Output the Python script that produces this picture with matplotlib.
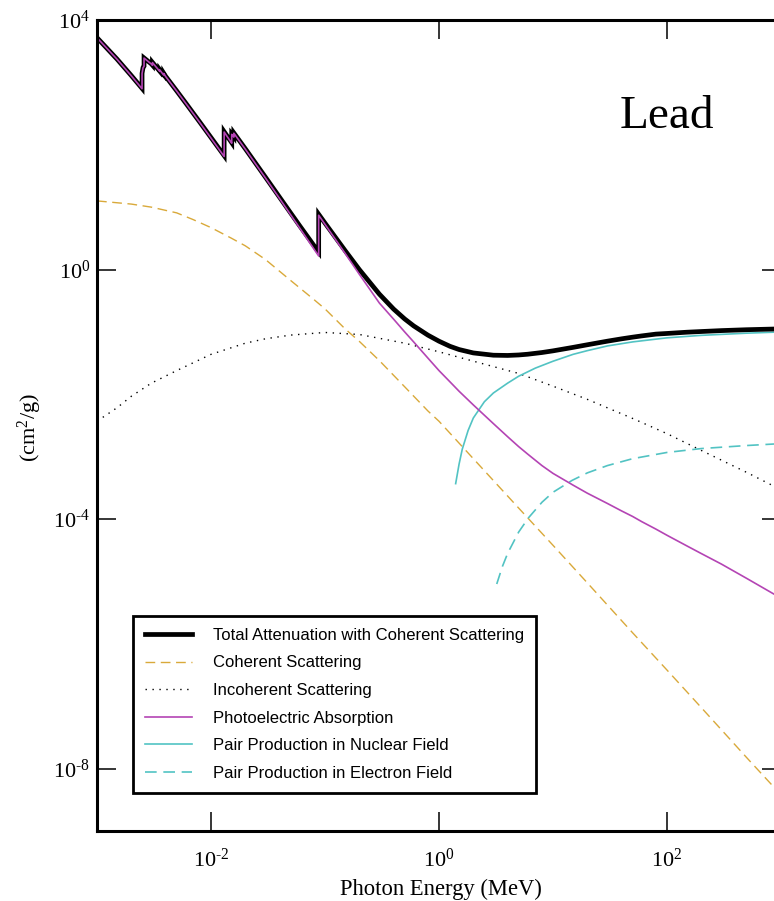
import matplotlib
matplotlib.use("Agg")
import matplotlib.pyplot as plt
from matplotlib.ticker import FixedLocator, NullLocator, FuncFormatter
from matplotlib.font_manager import FontProperties
import numpy as np

# ---------------- data (Lead, cm^2/g vs photon energy MeV) ----------------
E_total = [1.0e-3, 1.5e-3, 2.0e-3, 2.484e-3, 2.484e-3, 2.534e-3, 2.586e-3, 2.586e-3,
           3.0e-3, 3.066e-3, 3.066e-3, 3.301e-3, 3.554e-3, 3.554e-3, 3.699e-3,
           3.851e-3, 3.851e-3, 4.0e-3, 5.0e-3, 6.0e-3, 8.0e-3, 1.0e-2,
           1.304e-2, 1.304e-2, 1.5e-2, 1.52e-2, 1.52e-2, 1.553e-2, 1.586e-2, 1.586e-2,
           2.0e-2, 3.0e-2, 4.0e-2, 5.0e-2, 6.0e-2, 8.0e-2, 8.8e-2, 8.8e-2,
           0.1, 0.15, 0.2, 0.3, 0.4, 0.5, 0.6, 0.8, 1.0, 1.25, 1.5, 2.0, 3.0, 4.0,
           5.0, 6.0, 8.0, 10.0, 15.0, 20.0, 30.0, 40.0, 50.0, 60.0, 80.0, 100.0,
           150.0, 200.0, 300.0, 500.0, 1000.0]
total = [5210, 2356, 1285, 800.6, 1397, 1726, 1822, 2462,
         1975, 1887, 2088, 1772, 1510, 1592, 1442,
         1321, 1397, 1251, 730.4, 467.2, 228.7, 130.6,
         67.01, 162.1, 111.6, 107.8, 148.5, 141.6, 134.4, 154.8,
         86.36, 30.32, 14.36, 8.041, 5.021, 2.419, 1.910, 7.683,
         5.549, 2.014, 0.9985, 0.4031, 0.2323, 0.1614, 0.1248, 0.0887, 0.07102,
         0.05876, 0.05222, 0.04606, 0.04234, 0.04197,
         0.04272, 0.04391, 0.04675, 0.04972, 0.05653, 0.06225, 0.07106, 0.07752,
         0.08243, 0.08634, 0.09227, 0.0945,
         0.0990, 0.1015, 0.1050, 0.1085, 0.1120]
photo = [5197, 2344, 1274, 790.4, 1387, 1716, 1812, 2452,
         1966, 1878, 2079, 1763, 1502, 1584, 1434,
         1313, 1389, 1244, 724.5, 462.3, 225.2, 127.9,
         64.9, 160.0, 109.7, 106.0, 146.7, 139.8, 132.7, 153.1,
         84.9, 29.4, 13.7, 7.53, 4.62, 2.13, 1.65, 7.42,
         5.30, 1.82, 0.84, 0.29, 0.160, 0.100, 0.069, 0.038, 0.024,
         0.0158, 0.0112, 0.00676, 0.00339, 0.00209,
         0.00145, 0.00110, 0.00072, 0.00054, 0.00035, 0.00026, 0.000178, 0.000135,
         0.000110, 0.000091, 0.000069, 0.000055,
         0.000037, 0.000028, 0.000019, 0.0000112, 0.0000054]

E_coh = [1e-3, 2e-3, 3e-3, 5e-3, 7e-3, 1e-2, 1.5e-2, 2e-2, 3e-2, 5e-2, 8e-2, 0.1,
         0.15, 0.2, 0.3, 0.5, 0.8, 1.0, 2.0, 5.0, 10.0, 20.0, 50.0, 100.0, 200.0,
         500.0, 1000.0]
coherent = [12.6, 11.2, 10.0, 8.1, 6.3, 4.7, 3.2, 2.4, 1.45, 0.667, 0.33, 0.234,
            0.112, 0.0706, 0.0347, 0.0132, 0.0054, 0.0037, 9.3e-4, 1.5e-4, 3.8e-5,
            9.5e-6, 1.5e-6, 3.8e-7, 9.5e-8, 1.5e-8, 3.8e-9]

E_inc = [1e-3, 1.5e-3, 2e-3, 3e-3, 5e-3, 1e-2, 2e-2, 3e-2, 5e-2, 0.1, 0.2, 0.3,
         0.5, 1.0, 2.0, 5.0, 10.0, 20.0, 50.0, 100.0, 200.0, 500.0, 1000.0]
incoherent = [3.7e-3, 6.1e-3, 9.3e-3, 0.0151, 0.024, 0.0437, 0.066, 0.0776, 0.089,
              0.098, 0.091, 0.079, 0.066, 0.048, 0.034, 0.0216, 0.0135, 0.0083,
              0.0041, 0.00234, 0.00126, 5.6e-4, 2.95e-4]

E_pn = [1.40, 1.5, 1.6, 1.8, 2.0, 2.5, 3.0, 4.0, 5.0, 7.0, 10.0, 15.0, 20.0,
        30.0, 50.0, 100.0, 200.0, 500.0, 1000.0]
pair_nuc = [3.7e-4, 7.6e-4, 1.32e-3, 2.63e-3, 4.17e-3, 7.6e-3, 0.0105, 0.0151, 0.0195,
            0.0263, 0.0339, 0.0437, 0.0501, 0.0596, 0.0692, 0.0804, 0.0881, 0.0955,
            0.100]

E_pe = [3.21, 3.6, 4.0, 5.0, 6.1, 8.0, 10.0, 14.7, 20.0, 30.0, 50.0, 100.0,
        200.0, 500.0, 1000.0]
pair_el = [9.1e-6, 1.74e-5, 2.82e-5, 6.2e-5, 1.05e-4, 1.86e-4, 2.69e-4, 4.17e-4,
           5.5e-4, 7.2e-4, 9.3e-4, 1.17e-3, 1.35e-3, 1.51e-3, 1.62e-3]

labels = ["Total Attenuation with Coherent Scattering", "Coherent Scattering",
          "Incoherent Scattering", "Photoelectric Absorption",
          "Pair Production in Nuclear Field", "Pair Production in Electron Field"]
x_ticks = [1e-2, 1e0, 1e2]
y_ticks = [1e-8, 1e-4, 1e0, 1e4]
x_range = (1e-3, 1e3)
y_range = (1e-9, 1e4)

# ---------------- style ----------------
plt.rcParams['font.family'] = ['Liberation Serif', 'DejaVu Serif']
plt.rcParams['mathtext.fontset'] = 'custom'
plt.rcParams['mathtext.rm'] = 'Liberation Serif'
plt.rcParams['mathtext.it'] = 'Liberation Serif:italic'
plt.rcParams['mathtext.bf'] = 'Liberation Serif:bold'

c_coh = '#D9A93A'
c_photo = '#B444B4'
c_pair = '#52C3C3'


def pow_fmt(v, pos):
    e = int(round(np.log10(v)))
    return r'$\mathdefault{10^{\text{%d}}}$' % e


fig = plt.figure(figsize=(7.74, 9.01), dpi=100)
ax = fig.add_axes([97/774, 70/901, 684/774, 811/901])
ax.set_xscale('log')
ax.set_yscale('log')

l_coh, = ax.plot(E_coh, coherent, color=c_coh, lw=1.0, dashes=(7, 4))
l_inc, = ax.plot(E_inc, incoherent, color='black', lw=1.0, dashes=(1, 4))
l_pn, = ax.plot(E_pn, pair_nuc, color=c_pair, lw=1.2)
l_pe, = ax.plot(E_pe, pair_el, color=c_pair, lw=1.2, dashes=(7, 4))
l_tot, = ax.plot(E_total, total, color='black', lw=3.4, solid_joinstyle='miter')
l_ph, = ax.plot(E_total, photo, color=c_photo, lw=1.2)

ax.set_xlim(*x_range)
ax.set_ylim(*y_range)
ax.xaxis.set_major_locator(FixedLocator(x_ticks))
ax.yaxis.set_major_locator(FixedLocator(y_ticks))
ax.xaxis.set_minor_locator(NullLocator())
ax.yaxis.set_minor_locator(NullLocator())
ax.xaxis.set_major_formatter(FuncFormatter(pow_fmt))
ax.yaxis.set_major_formatter(FuncFormatter(pow_fmt))
ax.tick_params(which='major', direction='in', length=14, width=1.1,
               top=True, right=True, labelsize=16)
ax.tick_params(axis='x', pad=13)
ax.tick_params(axis='y', pad=5)
for s in ax.spines.values():
    s.set_linewidth(2.2)

fig.text(441/774, 1 - 889/901, 'Photon Energy (MeV)', ha='center', va='center', fontsize=16.3)
fig.text(30/774, 1 - 428/901, r'(cm$^2$/g)', ha='center', va='center', rotation=90, fontsize=16)
ax.text(100, 10**2.45, 'Lead', ha='center', va='center', fontsize=34)

leg = ax.legend([l_tot, l_coh, l_inc, l_ph, l_pn, l_pe], labels,
                loc='upper left', bbox_to_anchor=(133/774, 1 - 616/901),
                bbox_transform=fig.transFigure, borderaxespad=0,
                frameon=True, fancybox=False, edgecolor='black', framealpha=1,
                prop=FontProperties(family='Liberation Sans', size=12),
                handlelength=2.8, handletextpad=1.3, labelspacing=0.75,
                borderpad=0.72)
leg.get_frame().set_linewidth(2.0)

fig.savefig('out.png', dpi=100)
